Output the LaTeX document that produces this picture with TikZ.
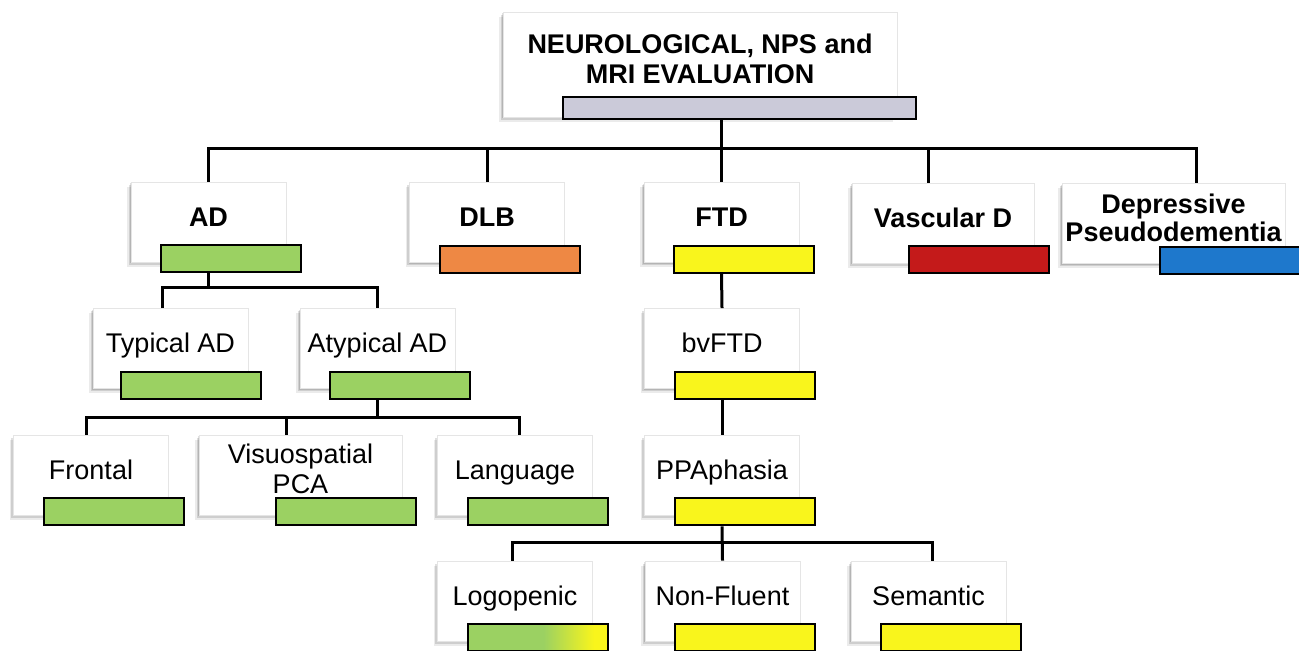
\documentclass[tikz,border=0pt]{standalone}
\usepackage{fontspec}
\setmainfont{Liberation Sans}
\usetikzlibrary{shadows,calc}

\definecolor{barlilac}{RGB}{203,202,217}
\definecolor{bargreen}{RGB}{155,209,98}
\definecolor{barorange}{RGB}{238,136,68}
\definecolor{baryellow}{RGB}{249,245,28}
\definecolor{barred}{RGB}{196,26,26}
\definecolor{barblue}{RGB}{30,120,204}

\pgfdeclarehorizontalshading{greenyellow}{100bp}{color(0bp)=(bargreen); color(25bp)=(bargreen); color(52bp)=(bargreen); color(70bp)=(baryellow); color(100bp)=(baryellow)}

\begin{document}
\begin{tikzpicture}[
    x=0.5pt, y=-0.5pt,
    box/.style={rectangle, draw=gray!20, fill=white, minimum width=77.5pt, minimum height=40pt, inner sep=0pt,
        drop shadow={shadow xshift=-0.4pt, shadow yshift=-0.5pt, fill=black, opacity=0.12},
        drop shadow={shadow xshift=-1.1pt, shadow yshift=-1.4pt, fill=black, opacity=0.12},
        drop shadow={shadow xshift=-1.8pt, shadow yshift=-2.3pt, fill=black, opacity=0.08},
        font=\fontsize{13.5}{15}\selectfont, text height=10pt, text depth=5.8pt},
    bold/.style={font=\fontsize{13.5}{15}\selectfont\bfseries},
    twoline/.style={align=center, text height=, text depth=},
    bar/.style={rectangle, draw=black, line width=1pt, minimum width=70pt, minimum height=13.5pt, inner sep=0pt},
    link/.style={line width=1.5pt}
]

\fill[white] (0,0) rectangle (1299,650);
\useasboundingbox (0,0) rectangle (1299,650);

% Evaluation
\node[box, bold, twoline, minimum width=197pt, minimum height=52.5pt] (eval) at (700,64.5) {NEUROLOGICAL, NPS and\\MRI EVALUATION\rule[-5.5pt]{0pt}{5.5pt}};
\node[bar, fill=barlilac, minimum width=176.5pt, minimum height=11pt] (eval-bar) at ($(eval.south east)+(-157.5,-9)$) {};

% Diagnoses
\node[box, bold] (ad) at (208.5,222) {AD};
\node[box, bold] (dlb) at (487,222.5) {DLB};
\node[box, bold] (ftd) at (721.5,222.5) {FTD};
\node[box, bold, minimum width=91pt] (vasc) at (943,223) {Vascular D};
\node[box, bold, twoline, minimum width=111.5pt, font=\fontsize{13.5}{14}\selectfont\bfseries] (dep) at (1173.5,223.5) {Depressive\\Pseudodementia\rule[-5.5pt]{0pt}{5.5pt}};

\node[bar, fill=bargreen] (ad-bar) at ($(ad.south east)+(-55,-3.5)$) {};
\node[bar, fill=barorange] (dlb-bar) at ($(dlb.south east)+(-55,-3.5)$) {};
\node[bar, fill=baryellow] (ftd-bar) at ($(ftd.south east)+(-55,-3.5)$) {};
\node[bar, fill=barred] (vasc-bar) at ($(vasc.south east)+(-55,-3.5)$) {};
\node[bar, fill=barblue] (dep-bar) at ($(dep.south east)+(-55,-3.5)$) {};

% AD and FTD subtypes
\node[box] (typical) at (170.5,348.5) {Typical AD};
\node[box] (atypical) at (377.5,348.5) {Atypical AD};
\node[box] (bvftd) at (722,348.5) {bvFTD};

\node[bar, fill=bargreen] (typical-bar) at ($(typical.south east)+(-57,-3.5)$) {};
\node[bar, fill=bargreen] (atypical-bar) at ($(atypical.south east)+(-55,-3.5)$) {};
\node[bar, fill=baryellow] (bvftd-bar) at ($(bvftd.south east)+(-55,-3.5)$) {};

% Atypical variants
\node[box] (frontal) at (91,475) {Frontal};
\node[box, twoline, minimum width=101.5pt] (visuo) at (300.5,475) {Visuospatial\\PCA\rule[-6pt]{0pt}{6pt}};
\node[box] (language) at (515,475) {Language};
\node[box] (ppa) at (722,475) {PPAphasia};

\node[bar, fill=bargreen] (frontal-bar) at ($(frontal.south east)+(-55,-3.5)$) {};
\node[bar, fill=bargreen] (visuo-bar) at ($(visuo.south east)+(-56,-3.5)$) {};
\node[bar, fill=bargreen] (language-bar) at ($(language.south east)+(-55,-3.5)$) {};
\node[bar, fill=baryellow] (ppa-bar) at ($(ppa.south east)+(-55,-3.5)$) {};

% PPA variants
\node[box] (logopenic) at (515,601) {Logopenic};
\node[box] (nonfluent) at (722.5,601) {Non-Fluent};
\node[box] (semantic) at (928.5,601) {Semantic};

\node[bar, shade, shading=greenyellow] (logopenic-bar) at ($(logopenic.south east)+(-55,-3.5)$) {};
\node[bar, fill=baryellow] (nonfluent-bar) at ($(nonfluent.south east)+(-55,-3.5)$) {};
\node[bar, fill=baryellow] (semantic-bar) at ($(semantic.south east)+(-55,-3.5)$) {};

% Tree lines
\coordinate (top-bus) at (722,148);
\coordinate (ad-bus) at (208.5,287);
\coordinate (atyp-bus) at (377.5,417);
\coordinate (ppa-bus) at (722,542);

\draw[link] (eval-bar.south -| ftd.north) -- (ftd.north);
\draw[link] (ad.north) |- (top-bus) -| ([xshift=11.25pt]dep.north);
\draw[link] (dlb.north) |- (top-bus);
\draw[link] ([xshift=-7.5pt]vasc.north) |- (top-bus);

\draw[link] (ad-bar.south -| ad.north) -- (ad-bus);
\draw[link] ([xshift=-4.25pt]typical.north) |- (ad-bus) -| (atypical.north);

\draw[link] (atypical-bar.south -| atypical.north) -- (atyp-bus);
\draw[link] ([xshift=-2.5pt]frontal.north) |- (atyp-bus) -| ([xshift=2pt]language.north);
\draw[link] ([xshift=-7.25pt]visuo.north) |- (atyp-bus);

\draw[link] (ftd-bar.south -| ftd.north) -- (bvftd.north);
\draw[link] (bvftd-bar.south -| bvftd.north) -- (ppa.north);
\draw[link] (ppa-bar.south -| ppa.north) -- (nonfluent.north);
\draw[link] ([xshift=-1.5pt]logopenic.north) |- (ppa-bus) -| ([xshift=1.75pt]semantic.north);

\end{tikzpicture}
\end{document}
